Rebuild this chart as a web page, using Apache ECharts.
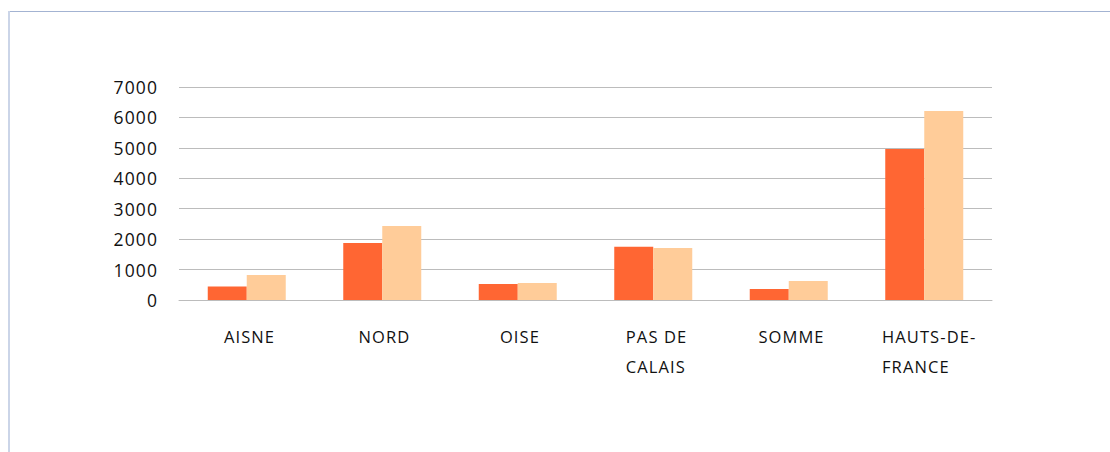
<!DOCTYPE html>
<html>
<head>
<meta charset="utf-8">
<script src="https://cdn.jsdelivr.net/npm/echarts@6/dist/echarts.min.js"></script>
<style>
  html, body { margin: 0; padding: 0; background: #fff; }
  #chart { width: 1110px; height: 452px; letter-spacing: 1.1px; }
</style>
</head>
<body>
<div id="chart"></div>
<script>
// departements
var categories = ['AISNE', 'NORD', 'OISE', 'PAS DE CALAIS', 'SOMME', 'HAUTS-DE-FRANCE'];
// how the tick labels wrap
var tickLabels = ['AISNE', 'NORD', 'OISE', 'PAS DE\nCALAIS', 'SOMME', 'HAUTS-DE-\nFRANCE'];
// the two series (dark orange, light peach)
var serieA = [440, 1870, 525, 1750, 360, 4960];
var serieB = [820, 2430, 560, 1710, 625, 6210];
var yTicks = [0, 1000, 2000, 3000, 4000, 5000, 6000, 7000];

var myChart = echarts.init(document.getElementById('chart'), null, { renderer: 'svg' });

var option = {
  animation: false,
  textStyle: { fontFamily: '"Open Sans", sans-serif' },
  graphic: [
    {
      type: 'line',
      shape: { x1: 9, y1: 11.5, x2: 1110, y2: 11.5 },
      style: { stroke: '#a3b3d2', lineWidth: 1 }
    },
    {
      type: 'line',
      shape: { x1: 9, y1: 11, x2: 9, y2: 452 },
      style: { stroke: '#cbd5e8', lineWidth: 2 }
    }
  ],
  grid: { left: 179, right: 118, top: 87, bottom: 152 },
  xAxis: {
    type: 'category',
    data: categories,
    axisTick: { show: false },
    axisLine: { show: true, lineStyle: { color: '#bcbcbc', width: 1 } },
    axisLabel: {
      margin: 21,
      interval: 0,
      color: '#111',
      fontSize: 16.5,
      lineHeight: 30,
      formatter: function (v, idx) {
        return tickLabels[idx].split('\n').map(function (s) {
          return '{l|' + s + '}';
        }).join('\n');
      },
      rich: {
        l: { align: 'left', fontSize: 16.5, lineHeight: 30, color: '#111' }
      }
    }
  },
  yAxis: {
    type: 'value',
    min: yTicks[0],
    max: yTicks[yTicks.length - 1],
    interval: 1000,
    axisLine: { show: false },
    axisTick: { show: false },
    splitLine: { lineStyle: { color: '#bcbcbc', width: 1 } },
    axisLabel: {
      margin: 21,
      color: '#111',
      fontSize: 17.5,
      formatter: function (v) { return String(v); }
    }
  },
  series: [
    {
      name: 'A',
      type: 'bar',
      data: serieA,
      barWidth: 39,
      barGap: '0%',
      itemStyle: { color: '#ff6633' }
    },
    {
      name: 'B',
      type: 'bar',
      data: serieB,
      barWidth: 39,
      barGap: '0%',
      itemStyle: { color: '#ffcc99' }
    }
  ]
};
myChart.setOption(option);
</script>
</body>
</html>
